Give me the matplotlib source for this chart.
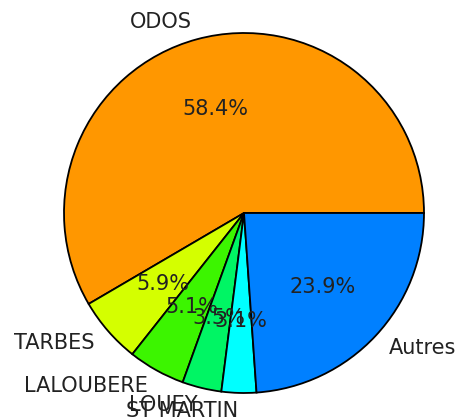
import matplotlib
matplotlib.use("Agg")
import matplotlib.pyplot as plt

labels = ["ODOS", "TARBES", "LALOUBERE", "LOUEY", "ST MARTIN", "Autres"]
shares = [58.43, 5.92, 5.12, 3.52, 3.12, 23.89]

colors = ["#ff9700", "#d4ff00", "#3cf500", "#00f564", "#00ffff", "#0080ff"]

if __name__ == "__main__":
    fig = plt.figure(figsize=(4.62, 4.19), dpi=100)
    s = 367.2
    ax = fig.add_axes([(244 - s / 2) / 462, (206 - s / 2) / 419, s / 462, s / 419])

    wedges, texts, autotexts = ax.pie(
        shares,
        labels=labels,
        colors=colors,
        autopct="%1.1f%%",
        startangle=0,
        wedgeprops={"edgecolor": "black", "linewidth": 1.3},
        textprops={"fontsize": 15, "color": "#222222"},
    )
    ax.set_xlim(-1.02, 1.02)
    ax.set_ylim(-1.02, 1.02)
    ax.set_aspect("equal")
    ax.axis("off")

    fig.savefig("out.png", dpi=100)
